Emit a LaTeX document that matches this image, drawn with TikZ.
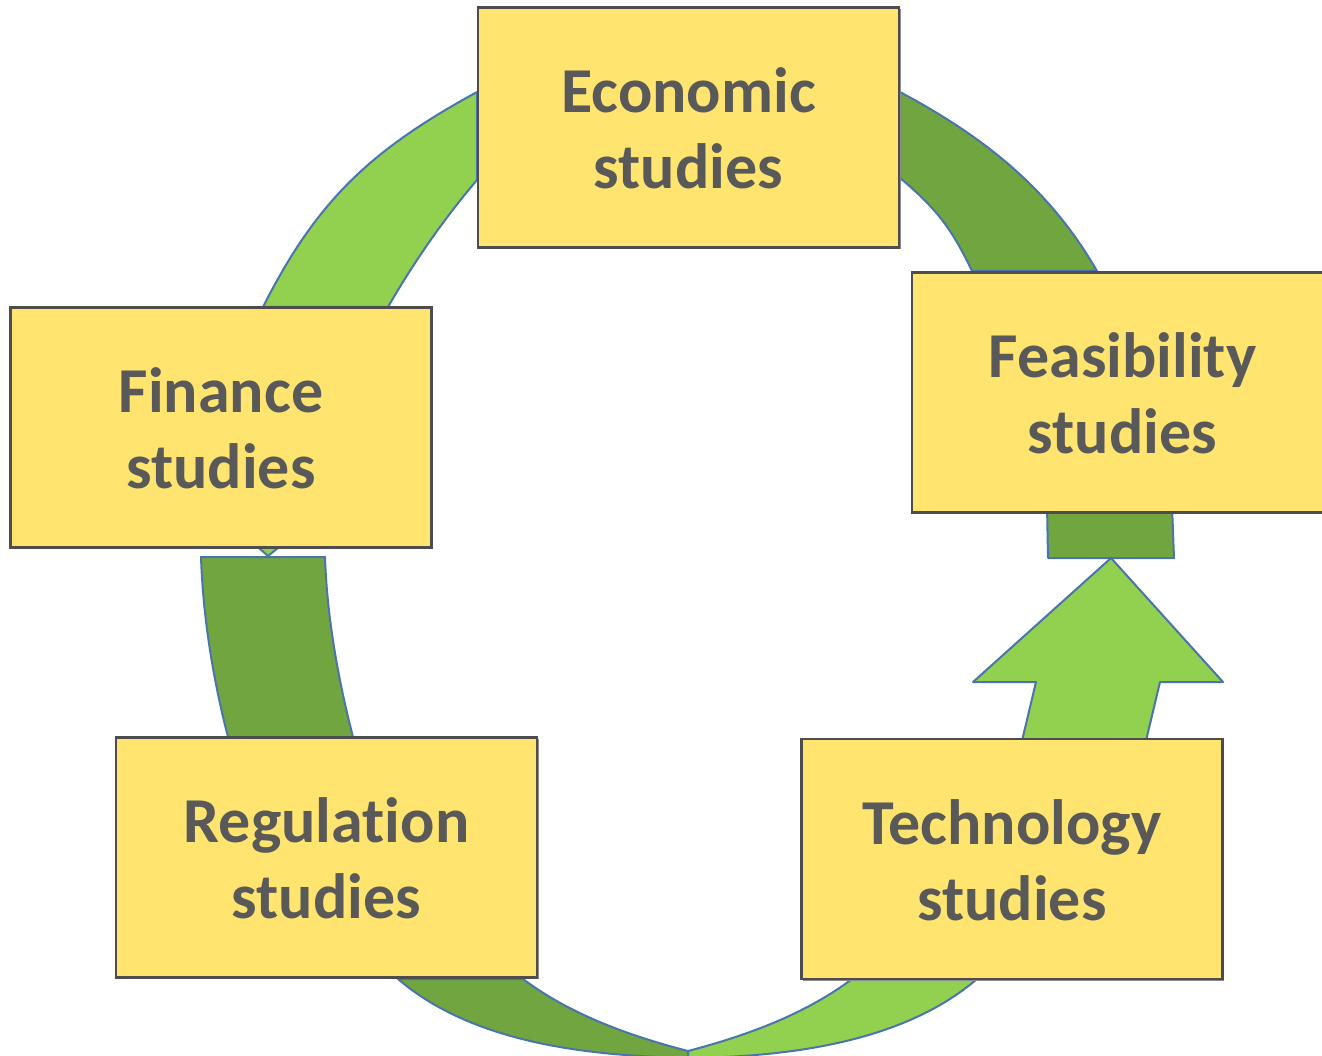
\documentclass[tikz,border=0pt]{standalone}
\usepackage{fontspec}
\setmainfont[Ligatures=NoCommon]{Carlito}
\usetikzlibrary{shadows}
\definecolor{lightgr}{HTML}{92D050}
\definecolor{darkgr}{HTML}{71A540}
\definecolor{edgeblue}{HTML}{4A74AC}
\definecolor{boxyellow}{HTML}{FFE470}
\definecolor{boxborder}{HTML}{4D4D4D}
\definecolor{textgray}{HTML}{595959}
\tikzset{
  seglight/.style={fill=lightgr, draw=edgeblue, line width=2pt, line join=round},
  segdark/.style={fill=darkgr, draw=edgeblue, line width=2pt, line join=round},
  studybox/.style={rectangle, fill=boxyellow, draw=boxborder, line width=2.5pt,
    minimum width=421pt, minimum height=240pt, inner sep=0pt,
    general shadow={fill=black!45, shadow xshift=1.5pt, shadow yshift=-1.5pt},
    font=\fontsize{64}{76}\selectfont\bfseries, text=textgray, align=center}
}
\newcommand{\toplinestrut}{\rule{0pt}{50pt}}
\newcommand{\botlinestrut}{\rule[-4pt]{0pt}{4pt}}
\begin{document}
\begin{tikzpicture}[x=1pt,y=-1pt]
\useasboundingbox (0,0) rectangle (1322,1056);
\clip (0,0) rectangle (1322,1056);
% top-left segment (light)
\path[seglight] (263,307) .. controls (317,200) and (371,150) .. (477,92)
  -- (477,180) .. controls (443,220) and (414,262) .. (388,307) -- cycle;
% top-right segment (dark)
\path[segdark] (900,92) .. controls (984,137) and (1049,188) .. (1097,271)
  -- (972,271) .. controls (952,229) and (936,208) .. (900,178) -- cycle;
% right short piece (dark)
\path[segdark] (1047,505) -- (1172,505) -- (1174,558) -- (1048,558) -- cycle;
% arrow (light)
\path[seglight] (1111,558) -- (1223,682) -- (1160,682) -- (1145,745)
  -- (1021,745) -- (1036,682) -- (973,682) -- cycle;
% bottom-left segment (dark)
\path[segdark] (398,979) .. controls (475,1045) and (595,1057) .. (700,1058)
  -- (760,1060) -- (688,1051) .. controls (630,1036) and (571,1015) .. (523,979) -- cycle;
% bottom-right segment (light)
\path[seglight] (852,979) .. controls (804,1015) and (745,1036) .. (688,1051)
  -- (688,1058) .. controls (780,1057) and (900,1045) .. (977,979) -- cycle;
% left segment (dark)
\path[segdark] (201,557) .. controls (203,617) and (213,679) .. (228,737)
  -- (353,737) .. controls (338,679) and (327,617) .. (325,557) -- cycle;
% small arrow tip under Finance box
\path[seglight] (250,540) -- (268,556) -- (288,540) -- cycle;
% boxes
\node[studybox] (econ) at (688.5,127.5) {\toplinestrut Economic\\studies\botlinestrut};
\node[studybox] (fin) at (221,427.5) {\toplinestrut Finance\\studies\botlinestrut};
\node[studybox] (feas) at (1122.5,392.5) {\toplinestrut Feasibility\\studies\botlinestrut};
\node[studybox] (reg) at (326.5,857.5) {\toplinestrut Regulation\\studies\botlinestrut};
\node[studybox] (tech) at (1012,859) {\toplinestrut Technology\\studies\botlinestrut};
\end{tikzpicture}
\end{document}
